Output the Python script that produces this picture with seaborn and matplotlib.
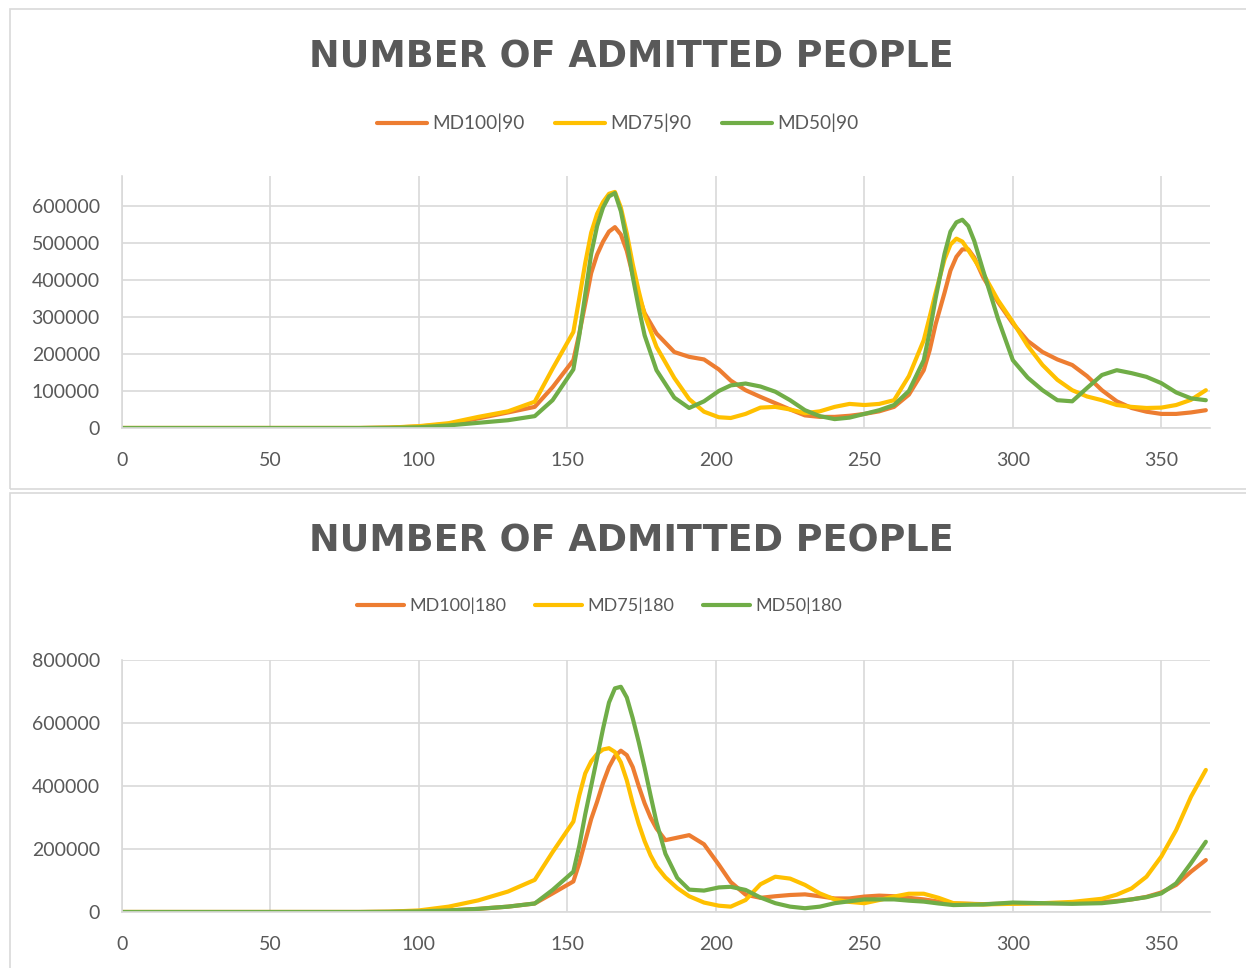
import pandas as pd
import matplotlib
matplotlib.use('Agg')
import matplotlib.pyplot as plt
import seaborn as sns
from matplotlib.patches import Rectangle

# datos (dia -> personas admitidas)
dias_90 = [0, 20, 40, 60, 80, 90, 100, 110, 120, 130,
           139, 145, 152, 154, 156, 158, 160, 162, 164, 166,
           168, 170, 172, 174, 176, 180, 186, 191, 196, 201,
           205, 210, 215, 220, 225, 230, 235, 240, 245, 250,
           255, 260, 265, 270, 272, 274, 277, 279, 281, 283,
           285, 287, 290, 295, 300, 305, 310, 315, 320, 325,
           330, 335, 340, 345, 350, 355, 360, 365]
md100_90 = [0, 0, 0, 0, 0, 1000, 4000, 11000, 26000, 42000,
            57000, 110000, 183000, 255000, 335000, 418000, 468000, 503000, 530000, 542000,
            522000, 478000, 413000, 358000, 310000, 255000, 205000, 192000, 185000, 158000,
            128000, 102000, 84000, 67000, 50000, 34000, 30000, 30000, 33000, 38000,
            45000, 57000, 90000, 156000, 210000, 280000, 365000, 425000, 462000, 482000,
            482000, 460000, 407000, 340000, 282000, 235000, 205000, 185000, 170000, 140000,
            102000, 72000, 54000, 44000, 38000, 38000, 42000, 48000]
md75_90 = [0, 0, 0, 0, 0, 1000, 5000, 13000, 30000, 45000,
           71000, 160000, 259000, 350000, 445000, 527000, 578000, 610000, 632000, 637000,
           595000, 525000, 442000, 370000, 305000, 219000, 135000, 78000, 44000, 29000,
           27000, 38000, 55000, 57000, 50000, 40000, 45000, 57000, 65000, 62000,
           65000, 75000, 140000, 237000, 300000, 365000, 455000, 495000, 511000, 503000,
           480000, 455000, 417000, 345000, 286000, 222000, 170000, 130000, 102000, 85000,
           75000, 62000, 57000, 54000, 55000, 62000, 76000, 102000]
md50_90 = [0, 0, 0, 0, 0, 500, 2000, 7000, 14000, 21000,
           32000, 75000, 158000, 250000, 360000, 470000, 545000, 595000, 625000, 634000,
           585000, 505000, 408000, 325000, 250000, 156000, 82000, 54000, 72000, 100000,
           115000, 120000, 112000, 98000, 75000, 48000, 32000, 24000, 28000, 38000,
           48000, 62000, 100000, 183000, 260000, 350000, 470000, 530000, 555000, 562000,
           545000, 505000, 425000, 295000, 183000, 136000, 102000, 75000, 72000, 108000,
           143000, 156000, 148000, 138000, 121000, 96000, 80000, 75000]

dias_180 = [0, 20, 40, 60, 80, 90, 100, 110, 120, 130,
            139, 145, 152, 154, 156, 158, 160, 162, 164, 166,
            168, 170, 172, 174, 176, 178, 180, 183, 187, 191,
            196, 201, 205, 210, 215, 220, 225, 230, 235, 240,
            245, 250, 255, 260, 265, 270, 275, 280, 290, 300,
            310, 320, 330, 335, 340, 345, 350, 355, 360, 365]
md100_180 = [0, 0, 0, 0, 0, 500, 2000, 5000, 10000, 17000,
             27000, 59000, 97000, 155000, 225000, 295000, 350000, 410000, 460000, 495000,
             512000, 498000, 460000, 400000, 345000, 300000, 265000, 228000, 236000, 244000,
             215000, 150000, 95000, 55000, 45000, 50000, 54000, 56000, 50000, 43000,
             43000, 49000, 52000, 50000, 45000, 40000, 33000, 27000, 25000, 27000,
             28000, 28000, 32000, 35000, 40000, 48000, 62000, 86000, 128000, 165000]
md75_180 = [0, 0, 0, 0, 0, 1000, 5000, 17000, 37000, 65000,
            102000, 190000, 287000, 370000, 440000, 478000, 502000, 516000, 520000, 508000,
            475000, 418000, 345000, 280000, 225000, 180000, 145000, 110000, 76000, 50000,
            30000, 20000, 17000, 38000, 88000, 112000, 106000, 86000, 59000, 40000,
            32000, 28000, 38000, 49000, 58000, 58000, 45000, 28000, 24000, 26000,
            28000, 32000, 42000, 55000, 75000, 112000, 176000, 260000, 366000, 451000]
md50_180 = [0, 0, 0, 0, 0, 500, 2000, 5000, 10000, 17000,
            27000, 70000, 128000, 210000, 310000, 400000, 490000, 582000, 665000, 710000,
            715000, 681000, 615000, 540000, 458000, 370000, 285000, 185000, 108000, 71000,
            68000, 78000, 80000, 70000, 46000, 28000, 17000, 12000, 17000, 28000,
            34000, 40000, 40000, 40000, 36000, 33000, 27000, 22000, 24000, 30000,
            28000, 26000, 28000, 33000, 40000, 47000, 59000, 91000, 155000, 223000]

titulo = 'NUMBER OF ADMITTED PEOPLE'
colores = ['#ED7D31', '#FFC000', '#70AD47']
gris_texto = '#595959'
gris_grid = '#D9D9D9'

sns.set_theme(style='white')
plt.rcParams['font.family'] = ['Lato', 'DejaVu Sans']

W, H = 1246, 968
fig = plt.figure(figsize=(W / 100, H / 100), dpi=100)

# marcos de cada panel (como en Excel)
for y0, y1 in [(9, 489), (493, 975)]:
    fig.patches.append(Rectangle((10 / W, 1 - y1 / H), W / W, (y1 - y0) / H,
                                 transform=fig.transFigure, fill=False, edgecolor=gris_grid, lw=1.2))


def panel(top_px, dias, series, nombres, ymax, yticks, title_y, legend_x, legend_y, legend_fs):
    df = pd.DataFrame({
        'dia': dias * 3,
        'valor': series[0] + series[1] + series[2],
        'serie': [nombres[0]] * len(dias) + [nombres[1]] * len(dias) + [nombres[2]] * len(dias),
    })
    ax = fig.add_axes([122 / W, 1 - (top_px + 252) / H, (1210 - 122) / W, 252 / H])
    sns.lineplot(data=df, x='dia', y='valor', hue='serie', palette=colores, lw=3,
                 ax=ax, legend=False, solid_capstyle='round', solid_joinstyle='round')
    ax.set_xlim(0, 366.4)
    ax.set_ylim(0, ymax)
    ax.set_xticks(range(0, 351, 50))
    ax.set_yticks(yticks)
    ax.set_yticklabels([str(v) for v in yticks])
    ax.set_xlabel('')
    ax.set_ylabel('')
    ax.grid(True, color=gris_grid, lw=1.2)
    ax.set_axisbelow(True)
    for lado in ['top', 'right']:
        ax.spines[lado].set_visible(False)
    for lado in ['left', 'bottom']:
        ax.spines[lado].set_color(gris_grid)
        ax.spines[lado].set_linewidth(1.2)
    ax.tick_params(axis='both', length=0, labelsize=14, colors=gris_texto)
    ax.tick_params(axis='x', pad=17)
    ax.tick_params(axis='y', pad=16)

    # titulo en una fuente mas ancha para imitar el espaciado de Excel
    fig.text(0.507, 1 - title_y / H, titulo, ha='center', va='center', fontsize=26.3,
             fontweight='bold', color=gris_texto, family=['DejaVu Sans'])
    handles = [plt.Line2D([], [], color=c, lw=3, solid_capstyle='round') for c in colores]
    fig.legend(handles, nombres, loc='center', bbox_to_anchor=(legend_x, 1 - legend_y / H), ncol=3,
               frameon=False, fontsize=legend_fs, handlelength=2.6, handletextpad=0.3, columnspacing=1.6,
               labelcolor=gris_texto)
    return ax


panel(176, dias_90, [md100_90, md75_90, md50_90], ['MD100|90', 'MD75|90', 'MD50|90'],
      680000, [0, 100000, 200000, 300000, 400000, 500000, 600000], 57, 0.496, 123, 13.7)
panel(660, dias_180, [md100_180, md75_180, md50_180], ['MD100|180', 'MD75|180', 'MD50|180'],
      800000, [0, 200000, 400000, 600000, 800000], 541, 0.481, 606, 13.0)

fig.savefig('out.png', dpi=100, facecolor='white')
